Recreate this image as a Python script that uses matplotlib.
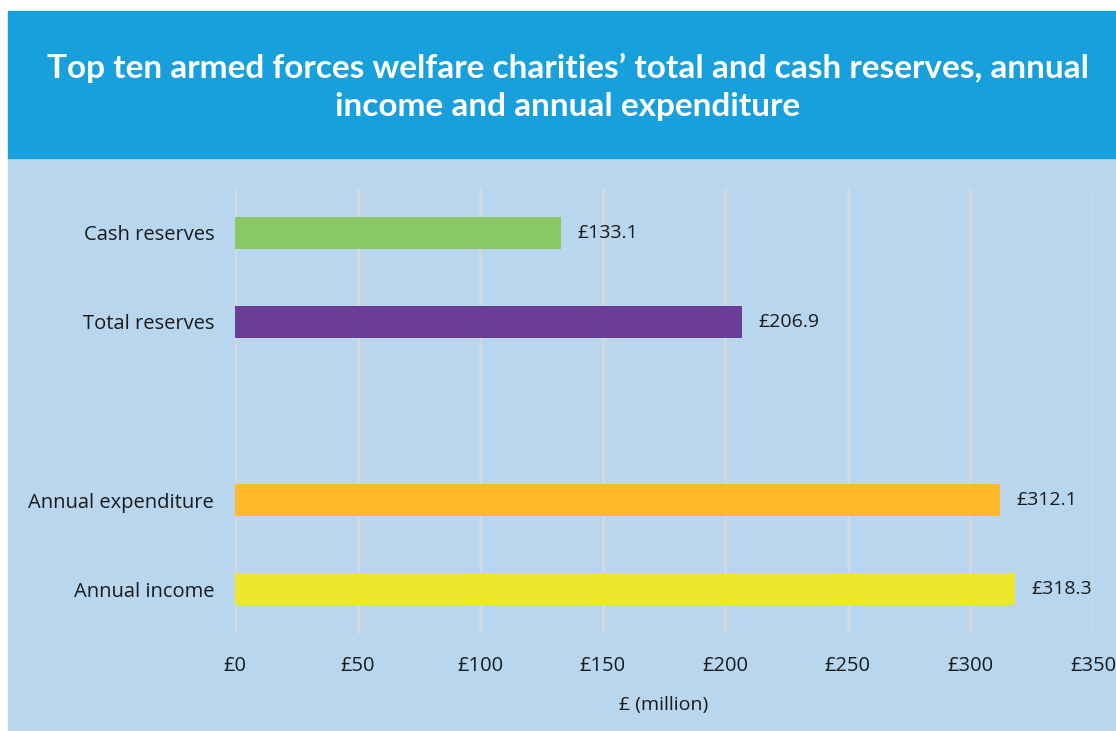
import matplotlib.pyplot as plt
from matplotlib.patches import Rectangle

categories = ['Annual income', 'Annual expenditure', '', 'Total reserves', 'Cash reserves']
values = [318.3, 312.1, None, 206.9, 133.1]
colors = ['#ECE72B', '#FDB92A', None, '#6A3E98', '#89C865']
ticks = [0, 50, 100, 150, 200, 250, 300, 350]

W, H = 1116, 731
fig = plt.figure(figsize=(W / 100, H / 100), dpi=100)
fig.patch.set_facecolor('white')

# background panels
fig.patches.append(Rectangle((8 / W, 0), 1 - 8 / W, (H - 158) / H,
                             transform=fig.transFigure, color='#B8D7EF', zorder=-5))
fig.patches.append(Rectangle((8 / W, (H - 158) / H), 1 - 8 / W, 147 / H,
                             transform=fig.transFigure, color='#17A0DB', zorder=-5))
fig.text(568 / W, (H - 87) / H,
         'Top ten armed forces welfare charities\u2019 total and cash reserves, annual\nincome and annual expenditure',
         ha='center', va='center', color='white', fontsize=24, fontweight='bold',
         family='Lato', linespacing=1.38)

ax = fig.add_axes([235 / W, (H - 634) / H, (1093 - 235) / W, (634 - 188) / H])
ax.set_facecolor('none')
for i, (v, c) in enumerate(zip(values, colors)):
    if v is None:
        continue
    ax.barh(i, v, height=0.36, color=c, zorder=3)
    ax.text(v + 6.5, i, '\u00a3%.1f' % v, va='center', ha='left', fontsize=14,
            family='Open Sans', color='#1a1a1a')

ax.set_xlim(0, 350)
ax.set_ylim(-0.5, 4.5)
ax.set_yticks(range(len(categories)))
ax.set_yticklabels(categories, fontsize=14.5, family='Open Sans', color='#1a1a1a')
ax.set_xticks(ticks)
ax.set_xticklabels(['\u00a3%d' % t for t in ticks], fontsize=14.5, family='Open Sans',
                   color='#1a1a1a')
ax.tick_params(length=0)
ax.tick_params(axis='x', pad=16)
ax.tick_params(axis='y', pad=15)
ax.grid(axis='x', color='#D9D9D9', linewidth=1.8, zorder=0)
for s in ax.spines.values():
    s.set_visible(False)
ax.set_xlabel('\u00a3 (million)', fontsize=14, family='Open Sans', color='#1a1a1a',
              labelpad=14)

plt.savefig('out.png', dpi=100, facecolor=fig.get_facecolor())
